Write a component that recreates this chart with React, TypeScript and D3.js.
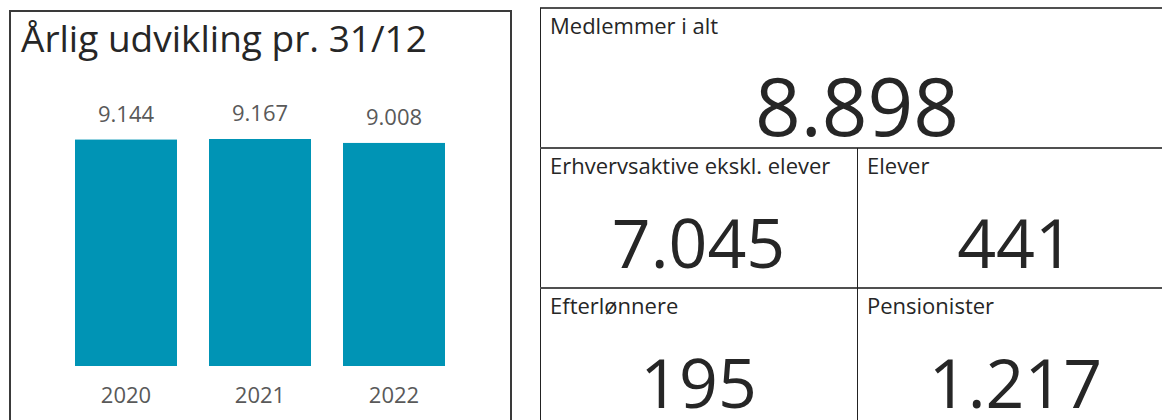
import React from 'react';
import * as d3 from 'd3';

const WIDTH = 1162;
const HEIGHT = 420;
const FONT = '"Open Sans", "Noto Sans", sans-serif';

// yearly member counts at 31/12
const years = ['2020', '2021', '2022'];
const members = [9144, 9167, 9008];

// key figure tiles
const tileLabels = ['Medlemmer i alt', 'Erhvervsaktive ekskl. elever', 'Elever', 'Efterlønnere', 'Pensionister'];
const tileValues = [8898, 7045, 441, 195, 1217];

const locale = d3.formatLocale({ decimal: ',', thousands: '.', grouping: [3], currency: ['', ' kr.'] });
const fmt = locale.format(',d');

// tile position in the grid: row, first column, column span
const TILE_GRID = [
  { row: 0, col: 0, span: 2 },
  { row: 1, col: 0, span: 1 },
  { row: 1, col: 1, span: 1 },
  { row: 2, col: 0, span: 1 },
  { row: 2, col: 1, span: 1 },
];

const BarPanel = () => {
  const xScale = d3.scaleBand<string>().domain(years).range([43, 477]).padding(0.2388);
  const yScale = d3
    .scaleLinear()
    .domain([0, d3.max(members) || 10000])
    .range([366, 139]);

  const bars = years.map((year, i) => {
    const x = xScale(year);
    if (x === undefined) return null;
    const v = members[i];
    const cx = x + xScale.bandwidth() / 2;
    return (
      <g key={year}>
        <rect x={x} y={yScale(v)} width={xScale.bandwidth()} height={yScale(0) - yScale(v)} fill="#0094b5" />
        <text x={cx} y={yScale(v) - 18} textAnchor="middle" fontSize={22} fill="#595959" fontFamily={FONT}>
          {fmt(v)}
        </text>
        <text x={cx} y={403} textAnchor="middle" fontSize={22} fill="#595959" fontFamily={FONT}>
          {year}
        </text>
      </g>
    );
  });

  return (
    <g>
      <rect x={10} y={11} width={501} height={430} fill="#fff" stroke="#3a3a3a" strokeWidth={2} />
      <text x={21} y={52} fontSize={37} fill="#262626" fontFamily={FONT}>
        Årlig udvikling pr. 31/12
      </text>
      {bars}
    </g>
  );
};

const TilePanel = () => {
  const colScale = d3.scaleBand<number>().domain([0, 1]).range([540, 1174]);
  const rowScale = d3.scaleBand<number>().domain([0, 1, 2]).range([8, 428]);

  const tiles = tileLabels.map((label, i) => {
    const g = TILE_GRID[i];
    const x0 = colScale(g.col) || 0;
    const w = colScale.bandwidth() * g.span;
    const y0 = rowScale(g.row) || 0;
    const big = g.span === 2;
    return (
      <g key={label}>
        <text x={x0 + 10} y={y0 + 26} fontSize={22} fill="#262626" fontFamily={FONT}>
          {label}
        </text>
        <text
          x={x0 + w / 2}
          y={y0 + (big ? 128 : 120)}
          textAnchor="middle"
          fontSize={big ? 80 : 68}
          fill="#262626"
          fontFamily={FONT}
        >
          {fmt(tileValues[i])}
        </text>
      </g>
    );
  });

  const top = rowScale(0) || 0;
  const right = colScale.range()[1];
  const mid = colScale(1) || 0;

  return (
    <g>
      {tiles}
      {/* outer frame */}
      <line x1={540} x2={right} y1={top} y2={top} stroke="#505050" strokeWidth={2} />
      <line x1={540.5} x2={540.5} y1={top} y2={HEIGHT} stroke="#222" strokeWidth={1} />
      {/* row separators */}
      {[1, 2].map((r) => {
        const y = rowScale(r) || 0;
        return <line key={r} x1={540} x2={right} y1={y} y2={y} stroke="#505050" strokeWidth={2} />;
      })}
      {/* column separator */}
      <line x1={mid + 0.5} x2={mid + 0.5} y1={rowScale(1) || 0} y2={HEIGHT} stroke="#222" strokeWidth={1} />
    </g>
  );
};

export default function App() {
  return (
    <svg
      width={WIDTH}
      height={HEIGHT}
      style={{ position: 'absolute', left: 0, top: 0, background: '#fff' }}
    >
      <rect width={WIDTH} height={HEIGHT} fill="#fff" />
      <BarPanel />
      <TilePanel />
    </svg>
  );
}
